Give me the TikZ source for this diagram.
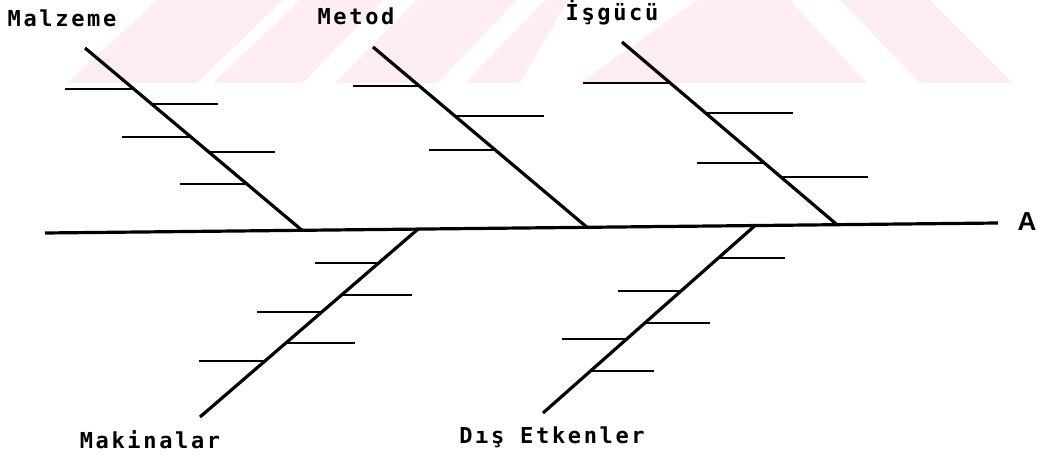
\documentclass[tikz,border=0pt]{standalone}
\usepackage{fontspec}
\newfontfamily\lblfont[LetterSpace=12]{DejaVu Sans Mono}
\newfontfamily\afont{Liberation Sans}
\definecolor{wm}{RGB}{254,238,242}
\begin{document}
\begin{tikzpicture}[x=1pt,y=-1pt,
  bone/.style={line width=3.2pt},
  rib/.style={line width=2.6pt},
  lbl/.style={font=\lblfont\bfseries\fontsize{22}{22}\selectfont, inner sep=0pt},
  albl/.style={font=\afont\bfseries\fontsize{26}{26}\selectfont, inner sep=0pt}]
\useasboundingbox (0,0) rectangle (1038,454);
% faint watermark
\begin{scope}
\clip (0,0) rectangle (1038,83);
\fill[wm] (67,83)--(157,0)--(283,0)--(197,83)--cycle;
\fill[wm] (213,83)--(300,0)--(383,0)--(303,83)--cycle;
\fill[wm] (335,83)--(417,0)--(517,0)--(437,83)--cycle;
\fill[wm] (465,83)--(545,0)--(568,0)--(520,83)--cycle;
\fill[wm] (580,83)--(697,0)--(790,0)--(867,83)--cycle;
\fill[wm] (840,0)--(930,0)--(1013,83)--(920,83)--cycle;
\end{scope}
% spine
\coordinate (sL) at (45,233);
\coordinate (sR) at (998,223);
\draw[bone] (sL) -- (sR);
\node[albl] (A) at (1027,222) {A};
% upper bones
\coordinate (mzT) at (85,48);  \coordinate (mzB) at (302,230.3);
\coordinate (mtT) at (373,47); \coordinate (mtB) at (587,227.3);
\coordinate (isT) at (622,42); \coordinate (isB) at (837,224.7);
\draw[bone] (mzT) -- (mzB);
\draw[bone] (mtT) -- (mtB);
\draw[bone] (isT) -- (isB);
% lower bones
\coordinate (mkT) at (418,229.1); \coordinate (mkB) at (200,417);
\coordinate (deT) at (755,225.6); \coordinate (deB) at (543,413);
\draw[bone] (mkT) -- (mkB);
\draw[bone] (deT) -- (deB);
% ribs
\foreach \a/\b/\y [count=\i] in {65/134/89, 152/218/104, 122/191/137, 209/275/152, 180/247/184}
  {\coordinate (mz\i a) at (\a,\y); \coordinate (mz\i b) at (\b,\y); \draw[rib] (mz\i a) -- (mz\i b);}
\foreach \a/\b/\y [count=\i] in {353/419/86, 455/544/116, 429/496/150}
  {\coordinate (mt\i a) at (\a,\y); \coordinate (mt\i b) at (\b,\y); \draw[rib] (mt\i a) -- (mt\i b);}
\foreach \a/\b/\y [count=\i] in {583/671/83, 706/793/113, 697/766/163, 782/868/177}
  {\coordinate (is\i a) at (\a,\y); \coordinate (is\i b) at (\b,\y); \draw[rib] (is\i a) -- (is\i b);}
\foreach \a/\b/\y [count=\i] in {315/379/263, 342/412/295, 257/322/312, 286/355/343, 199/265/361}
  {\coordinate (mk\i a) at (\a,\y); \coordinate (mk\i b) at (\b,\y); \draw[rib] (mk\i a) -- (mk\i b);}
\foreach \a/\b/\y [count=\i] in {719/785/258, 618/681/291, 645/710/323, 562/627/339, 591/654/371}
  {\coordinate (de\i a) at (\a,\y); \coordinate (de\i b) at (\b,\y); \draw[rib] (de\i a) -- (de\i b);}
% labels
\node[lbl] (malz) at (62,18) {Malzeme};
\node[lbl] (metod) at (356,16) {Metod};
\node[lbl] (isg) at (612,13) {İşgücü};
\node[lbl] (mak) at (150,440) {Makinalar};
\node[lbl] (dis) at (552,437) {Dış Etkenler};
\end{tikzpicture}
\end{document}
